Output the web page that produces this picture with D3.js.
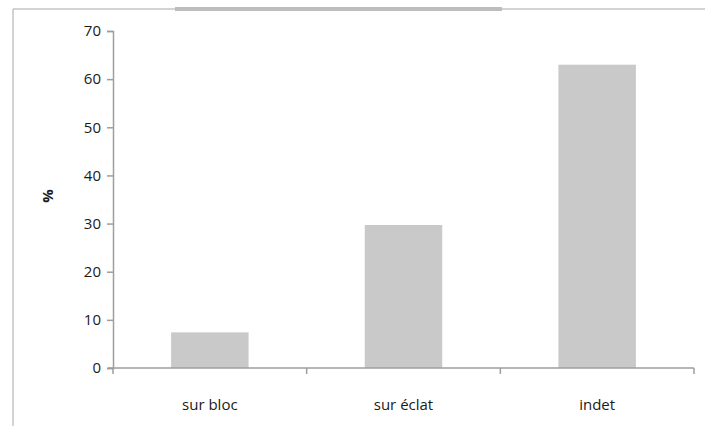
<!DOCTYPE html>
<html>
<head>
<meta charset="utf-8">
<script src="https://cdn.jsdelivr.net/npm/d3@7"></script>
<style>
  html, body { margin: 0; padding: 0; background: #fff; }
  svg { display: block; }
  text { font-family: "Open Sans", "Liberation Sans", sans-serif; fill: #1a1a1a; }
</style>
</head>
<body>
<svg id="chart" width="705" height="426"></svg>
<script>
const categories = ["sur bloc", "sur éclat", "indet"];
const values = [7.4, 29.7, 63.0];
const yTicks = [0, 10, 20, 30, 40, 50, 60, 70];
const yLabel = "%";

const svg = d3.select("#chart");
const W = 705, H = 426;
const margin = { left: 113, right: 11, top: 31, bottom: 58 };

// Frame decoration
svg.append("line").attr("x1", 13).attr("x2", 705).attr("y1", 9).attr("y2", 9)
  .attr("stroke", "#c4c4c4").attr("stroke-width", 1.5);
svg.append("line").attr("x1", 13).attr("x2", 13).attr("y1", 9).attr("y2", H)
  .attr("stroke", "#c4c4c4").attr("stroke-width", 1.5);
svg.append("rect").attr("x", 175).attr("y", 7).attr("width", 327).attr("height", 4)
  .attr("fill", "#bdbdbd");

const x = d3.scaleBand().domain(categories)
  .range([margin.left, W - margin.right]).paddingInner(0.6).paddingOuter(0.3);
const y = d3.scaleLinear().domain([0, 70]).range([H - margin.bottom, margin.top]);

// Bars
svg.append("g").selectAll("rect").data(values).join("rect")
  .attr("x", (d, i) => x(categories[i]))
  .attr("width", x.bandwidth())
  .attr("y", d => y(d))
  .attr("height", d => y(0) - y(d))
  .attr("fill", "#c9c9c9");

// Y axis
const yAxis = d3.axisLeft(y).tickValues(yTicks).tickSize(6).tickPadding(6).tickFormat(d3.format("d"));
const gy = svg.append("g").attr("transform", `translate(${margin.left},0)`).call(yAxis);
gy.select(".domain").attr("stroke", "#9e9e9e").attr("stroke-width", 1.5);
gy.selectAll(".tick line").attr("stroke", "#9e9e9e").attr("stroke-width", 1.5);
gy.selectAll(".tick text").attr("font-size", 15).attr("fill", "#1a1a1a");

// X axis
const xStep = (W - margin.right - margin.left) / categories.length;
const gx = svg.append("g").attr("transform", `translate(0,${y(0)})`);
gx.append("line").attr("x1", margin.left - 5).attr("x2", W - margin.right)
  .attr("stroke", "#9e9e9e").attr("stroke-width", 1.5);
const bounds = d3.range(categories.length + 1).map(i => margin.left + i * xStep);
gx.selectAll("line.tk").data(bounds).join("line").attr("class", "tk")
  .attr("x1", d => d).attr("x2", d => d).attr("y1", 0).attr("y2", 6)
  .attr("stroke", "#9e9e9e").attr("stroke-width", 1.5);
gx.selectAll("text").data(categories).join("text")
  .attr("x", d => x(d) + x.bandwidth() / 2)
  .attr("y", 42)
  .attr("text-anchor", "middle")
  .attr("font-size", 15)
  .text(d => d);

// Y label
svg.append("text")
  .attr("transform", `translate(53,196) rotate(-90)`)
  .attr("text-anchor", "middle")
  .attr("font-size", 15)
  .attr("font-weight", "bold")
  .text(yLabel);
</script>
</body>
</html>
